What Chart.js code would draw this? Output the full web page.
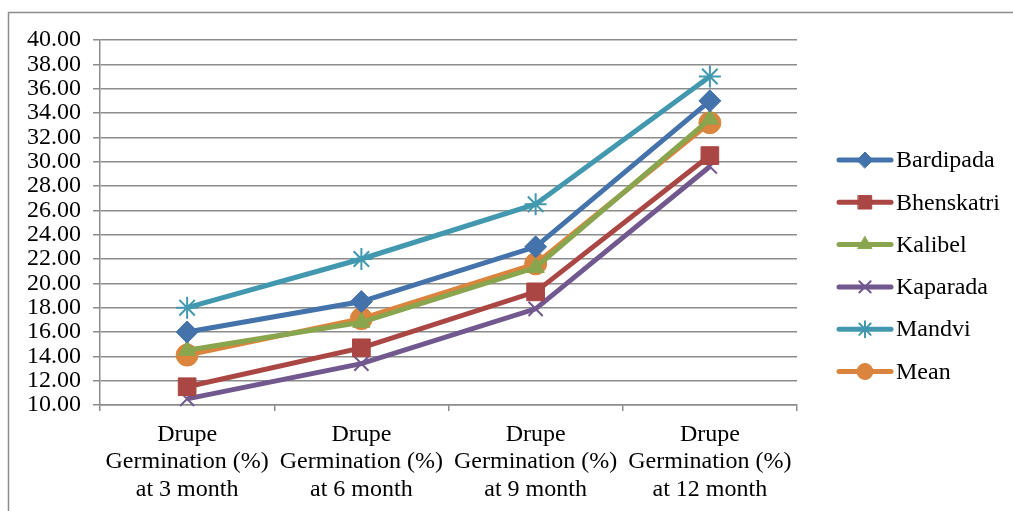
<!DOCTYPE html>
<html><head><meta charset="utf-8">
<script src="https://cdn.jsdelivr.net/npm/chart.js@4"></script>
<style>html,body{margin:0;padding:0;background:#fff;}#wrap{width:1013px;height:511px;position:relative;}</style>
</head><body><div id="wrap"><canvas id="c" width="1013" height="511"></canvas></div>
<script>
const categories = [
  ["Drupe","Germination (%)","at 3 month"],
  ["Drupe","Germination (%)","at 6 month"],
  ["Drupe","Germination (%)","at 9 month"],
  ["Drupe","Germination (%)","at 12 month"]
];
const seriesNames = ["Bardipada","Bhenskatri","Kalibel","Kaparada","Mandvi","Mean"];
const bardipada  = [16.0, 18.5, 23.0, 35.0];
const bhenskatri = [11.5, 14.7, 19.3, 30.5];
const kalibel    = [14.5, 16.8, 21.3, 33.5];
const kaparada   = [10.5, 13.4, 17.9, 29.6];
const mandvi     = [18.0, 22.0, 26.5, 37.0];
const mean       = [14.1, 17.1, 21.6, 33.2];
const yTicks = {min: 10, max: 40, step: 2};

const colors = ["#4472AA","#AA4643","#89A54E","#71588F","#4198AF","#DB843D"];
const styles = ["rectRot","rect","triangle","crossRot","star","circle"];
const radii  = [11, 12.5, 10, 10, 11, 11];
const legendRadii = [8, 9.5, 8, 8, 8, 8];
const values = [bardipada, bhenskatri, kalibel, kaparada, mandvi, mean];
const FONT = "'Liberation Serif', 'Times New Roman', serif";

const datasets = seriesNames.map((n,i)=>({
  label: n, data: values[i], borderColor: colors[i], backgroundColor: colors[i],
  borderWidth: 5, pointStyle: styles[i], pointRadius: radii[i], pointHoverRadius: radii[i],
  pointBorderColor: colors[i], pointBackgroundColor: colors[i],
  pointBorderWidth: (styles[i]==="crossRot"||styles[i]==="star") ? 2 : 1,
  tension: 0, clip: false
}));

const frame = {
  id: 'frame',
  beforeDraw(chart){
    const ctx = chart.ctx;
    ctx.save();
    ctx.strokeStyle = '#8c8c8c'; ctx.lineWidth = 1.5;
    ctx.beginPath();
    ctx.moveTo(8.5, 520); ctx.lineTo(8.5, 12.5); ctx.lineTo(1020, 12.5);
    ctx.stroke();
    ctx.restore();
  }
};

const legendPlugin = {
  id: 'customLegend',
  afterDraw(chart){
    const ctx = chart.ctx;
    ctx.save();
    chart.data.datasets.forEach((ds,i)=>{
      const y = 160 + i*42.3;
      ctx.strokeStyle = ds.borderColor; ctx.lineWidth = 5; ctx.lineCap = 'round';
      ctx.beginPath(); ctx.moveTo(839, y); ctx.lineTo(891, y); ctx.stroke();
      ctx.fillStyle = ds.borderColor; ctx.strokeStyle = ds.borderColor;
      ctx.lineWidth = ds.pointBorderWidth;
      Chart.helpers.drawPoint(ctx, {pointStyle: ds.pointStyle, radius: legendRadii[i], borderWidth: ds.pointBorderWidth, rotation: 0}, 865, y);
      ctx.fillStyle = '#000'; ctx.font = '24px ' + FONT;
      ctx.textBaseline = 'middle'; ctx.textAlign = 'left';
      ctx.fillText(ds.label, 896, y+1);
    });
    ctx.restore();
  }
};

new Chart(document.getElementById('c'), {
  type: 'line',
  data: { labels: categories, datasets },
  options: {
    responsive: false, animation: false, devicePixelRatio: 1,
    layout: { padding: { left: 0, top: 40, right: 216, bottom: 0 } },
    plugins: { legend: { display: false }, tooltip: { enabled: false } },
    scales: {
      x: {
        type: 'category', offset: true,
        grid: { offset: true, drawOnChartArea: false, drawTicks: true, tickLength: 6, color: '#8c8c8c', lineWidth: 1.5 },
        border: { color: '#8c8c8c', width: 1.5 },
        ticks: { color: '#000', font: { family: FONT, size: 24, lineHeight: 1.14 }, maxRotation: 0, autoSkip: false, padding: 10 },
        afterFit(s){ s.height = 106; }
      },
      y: {
        min: yTicks.min, max: yTicks.max,
        grid: { color: '#8c8c8c', lineWidth: 1.5, tickLength: 7, drawTicks: true },
        border: { color: '#8c8c8c', width: 1.5 },
        ticks: { stepSize: yTicks.step, autoSkip: false, color: '#000', font: { family: FONT, size: 24, lineHeight: 1 }, padding: 12,
                 callback: v => Number(v).toFixed(2) },
        afterFit(s){ s.width = 100; }
      }
    }
  },
  plugins: [frame, legendPlugin]
});
</script></body></html>
